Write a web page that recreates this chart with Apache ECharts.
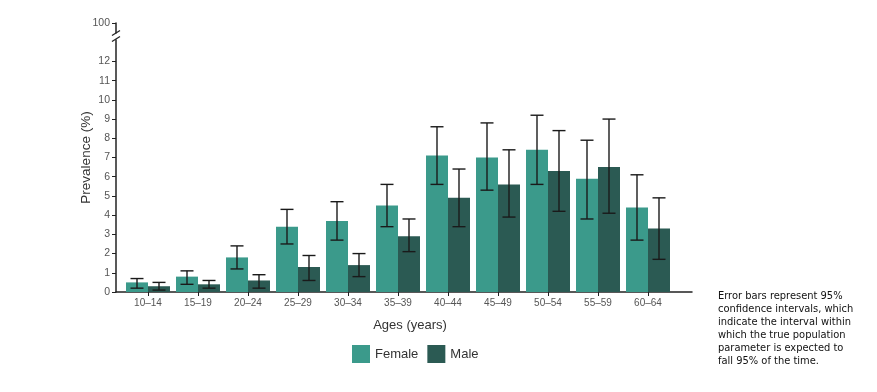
<!DOCTYPE html>
<html><head><meta charset="utf-8">
<script src="https://cdn.jsdelivr.net/npm/echarts@6/dist/echarts.min.js"></script>
<style>html,body{margin:0;padding:0;background:#fff}#c{width:877px;height:392px}</style>
</head><body><div id="c"></div>
<script>
const categories = ['10–14','15–19','20–24','25–29','30–34','35–39','40–44','45–49','50–54','55–59','60–64'];
const femaleValues = [0.5,0.8,1.8,3.4,3.7,4.5,7.1,7.0,7.4,5.9,4.4];
const femaleLow    = [0.2,0.4,1.2,2.5,2.7,3.4,5.6,5.3,5.6,3.8,2.7];
const femaleHigh   = [0.7,1.1,2.4,4.3,4.7,5.6,8.6,8.8,9.2,7.9,6.1];
const maleValues   = [0.3,0.4,0.6,1.3,1.4,2.9,4.9,5.6,6.3,6.5,3.3];
const maleLow      = [0.1,0.2,0.2,0.6,0.8,2.1,3.4,3.9,4.2,4.1,1.7];
const maleHigh     = [0.5,0.6,0.9,1.9,2.0,3.8,6.4,7.4,8.4,9.0,4.9];
const yTickValues  = [0,1,2,3,4,5,6,7,8,9,10,11,12,14];
const yTopLabel    = '100';
const noteText = 'Error bars represent 95%\nconfidence intervals, which\nindicate the interval within\nwhich the true population\nparameter is expected to\nfall 95% of the time.';

const FEMALE = '#3b9a8b', MALE = '#2b5a53';
const BAR_W = 22;
const chart = echarts.init(document.getElementById('c'));

function errSeries(name, low, high, off) {
  return {
    type: 'custom', name: name + ' CI', silent: true, z: 5,
    data: low.map((l, i) => [i, l, high[i]]),
    renderItem: function (params, api) {
      const i = api.value(0);
      const p1 = api.coord([i, api.value(1)]);
      const p2 = api.coord([i, api.value(2)]);
      const x = p1[0] + off;
      const hw = 6.5;
      const st = { stroke: '#1a1a1a', lineWidth: 1.4 };
      return { type: 'group', children: [
        { type: 'line', shape: { x1: x, y1: p1[1], x2: x, y2: p2[1] }, style: st },
        { type: 'line', shape: { x1: x - hw, y1: p1[1], x2: x + hw, y2: p1[1] }, style: st },
        { type: 'line', shape: { x1: x - hw, y1: p2[1], x2: x + hw, y2: p2[1] }, style: st }
      ]};
    }
  };
}

const option = {
  animation: false,
  backgroundColor: '#fff',
  grid: { left: 116, right: 185, top: 23, bottom: 100 },
  legend: {
    data: ['Female', 'Male'], left: 347, top: 340, itemWidth: 18, itemHeight: 18, itemGap: 9,
    icon: 'rect', textStyle: { fontFamily: 'Liberation Sans', fontSize: 13, color: '#333' }
  },
  xAxis: {
    type: 'value', min: -0.64, max: 10.88,
    name: 'Ages (years)', nameLocation: 'middle', nameGap: 27, nameMoveOverlap: false,
    nameTextStyle: { fontFamily: 'Liberation Sans', fontSize: 13, color: '#333', padding: [0, 0, 0, 12] },
    axisLine: { show: true, onZero: false, lineStyle: { color: '#222', width: 1.5 } },
    axisTick: { show: true, length: 4, customValues: categories.map((c, i) => i), lineStyle: { color: '#222' } },
    axisLabel: { customValues: categories.map((c, i) => i), formatter: v => categories[Math.round(v)],
      fontFamily: 'Liberation Sans', fontSize: 10, color: '#555', margin: 6 },
    splitLine: { show: false }
  },
  yAxis: {
    type: 'value', min: 0, max: 14,
    name: 'Prevalence (%)', nameLocation: 'middle', nameGap: 23, nameMoveOverlap: false,
    nameTextStyle: { fontFamily: 'Liberation Sans', fontSize: 13.5, color: '#333' },
    axisLine: { show: true, onZero: false, lineStyle: { color: '#222', width: 1.5 } },
    axisTick: { show: true, length: 4, customValues: yTickValues, lineStyle: { color: '#222' } },
    axisLabel: { customValues: yTickValues, formatter: v => v === 14 ? yTopLabel : String(v),
      fontFamily: 'Liberation Sans', fontSize: 10.5, color: '#555', margin: 6 },
    splitLine: { show: false }
  },
  series: [
    { name: 'Female', type: 'bar', barWidth: BAR_W, barGap: '0%', itemStyle: { color: FEMALE },
      data: femaleValues.map((v, i) => [i, v]) },
    { name: 'Male', type: 'bar', barWidth: BAR_W, barGap: '0%', itemStyle: { color: MALE },
      data: maleValues.map((v, i) => [i, v]) },
    errSeries('Female', femaleLow, femaleHigh, -BAR_W / 2),
    errSeries('Male', maleLow, maleHigh, BAR_W / 2)
  ],
  graphic: [{
    type: 'text', left: 718, top: 290,
    style: { text: noteText, fontFamily: 'DejaVu Sans Condensed', fontSize: 11, lineHeight: 13, fill: '#111' }
  }]
};
chart.setOption(option);

// axis break marks on the y axis
const bp = chart.convertToPixel({ xAxisIndex: 0, yAxisIndex: 0 }, [-0.64, 13.3]);
const bx = bp[0], by = bp[1];
chart.setOption({ graphic: [
  option.graphic[0],
  { type: 'rect', shape: { x: bx - 3, y: by - 3, width: 6, height: 6 }, style: { fill: '#fff' }, z: 100 },
  { type: 'line', shape: { x1: bx - 4, y1: by - 1, x2: bx + 4, y2: by - 6 }, style: { stroke: '#222', lineWidth: 1.3 }, z: 101 },
  { type: 'line', shape: { x1: bx - 4, y1: by + 5, x2: bx + 4, y2: by }, style: { stroke: '#222', lineWidth: 1.3 }, z: 101 }
]});
</script></body></html>
